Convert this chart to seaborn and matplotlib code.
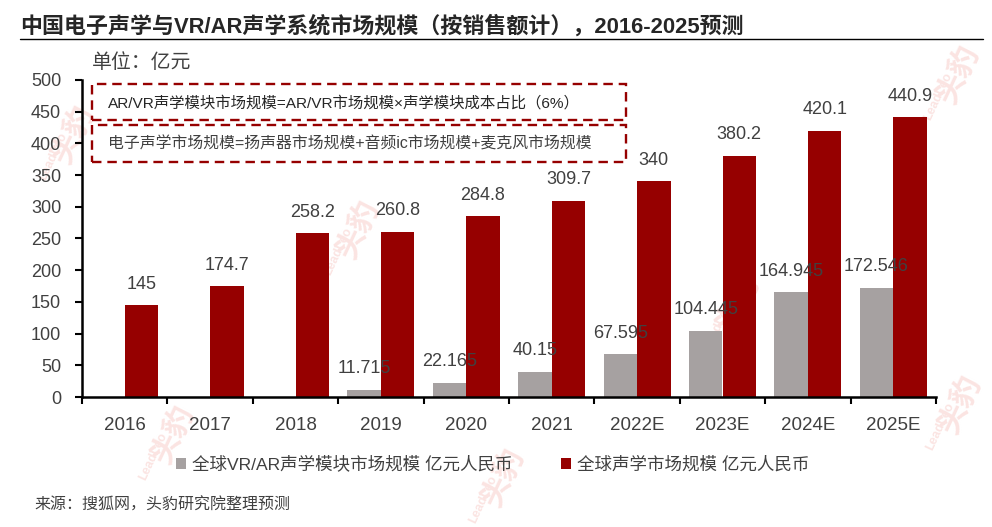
import matplotlib
matplotlib.use('Agg')
import matplotlib.pyplot as plt
import pandas as pd
import seaborn as sns
from matplotlib.patches import Rectangle

years = ['2016', '2017', '2018', '2019', '2020', '2021', '2022E', '2023E', '2024E', '2025E']
vr_values = [None, None, None, 11.715, 22.165, 40.15, 67.595, 104.445, 164.945, 172.546]
audio_values = [145, 174.7, 258.2, 260.8, 284.8, 309.7, 340, 380.2, 420.1, 440.9]
vr_name = '全球VR/AR声学模块市场规模 亿元人民币'
audio_name = '全球声学市场规模 亿元人民币'

sns.set_theme(style='white')
plt.rcParams['font.family'] = ['Liberation Sans', 'Noto Sans CJK SC', 'DejaVu Sans']

W, H = 992, 527
TEXT = '#404040'
RED = '#960000'
GREY = '#A6A1A1'
MARK = '#FBE4E2'

df = pd.DataFrame({'year': years * 2,
                   'series': [vr_name] * 10 + [audio_name] * 10,
                   'value': vr_values + audio_values})
df['value'] = df['value'].astype(float)

fig = plt.figure(figsize=(W / 100, H / 100), dpi=100)
ax = fig.add_axes([82 / W, 1 - 397 / H, (936 - 82) / W, (397 - 80) / H])
ax.set_zorder(1)

# watermark goes below the axes so the bars cover it
for x, y in [(75, 135), (360, 230), (175, 435), (505, 478), (740, 305), (960, 75), (962, 405)]:
    fig.text(x / W, 1 - y / H, '头豹', color=MARK, fontsize=22, fontweight='bold',
             rotation=65, ha='center', va='center', zorder=-1)
    fig.text((x - 22) / W, 1 - (y + 22) / H, 'LeadLeo', color=MARK, fontsize=9, fontweight='bold',
             rotation=65, ha='center', va='center', zorder=-1)

sns.barplot(data=df, x='year', y='value', hue='series', order=years,
            hue_order=[vr_name, audio_name], palette=[GREY, RED],
            width=0.785, gap=0, saturation=1, linewidth=0, ax=ax)
ax.patch.set_alpha(0)

for container in ax.containers:
    labels = []
    for v in container.datavalues:
        labels.append('' if pd.isna(v) else f'{v:g}')
    ax.bar_label(container, labels=labels, padding=9, fontsize=13, color=TEXT)

ax.set_xlim(-0.5, 9.5)
ax.set_ylim(0, 500)
ax.set_yticks(range(0, 501, 50))
ax.set_xlabel('')
ax.set_ylabel('')
ax.set_xticks([x - 0.5 for x in range(11)], minor=True)
ax.tick_params(axis='x', which='minor', bottom=True, length=5, width=1.5, color='black', direction='out')
ax.tick_params(axis='x', which='major', bottom=False, labelsize=13.5, labelcolor=TEXT, pad=8.5)
ax.tick_params(axis='y', left=True, length=5, width=1.5, color='black', direction='out',
               labelsize=13, labelcolor=TEXT, pad=10)
sns.despine(ax=ax)
for side in ['left', 'bottom']:
    ax.spines[side].set_color('black')
    ax.spines[side].set_linewidth(1.8)

ax.legend(loc='upper left', bbox_to_anchor=(172 / W, 1 - 452 / H), bbox_transform=fig.transFigure,
          ncol=2, frameon=False, fontsize=12.6, labelcolor=TEXT, handlelength=0.6, handleheight=0.6,
          handletextpad=0.35, columnspacing=2.75, borderpad=0.2, borderaxespad=0)

fig.text(20 / W, 1 - 26 / H, '中国电子声学与VR/AR声学系统市场规模（按销售额计），2016-2025预测',
         fontsize=15.8, fontweight='bold', color='#262626', va='center')
fig.add_artist(plt.Line2D([20 / W, 983 / W], [1 - 38.5 / H] * 2, color='black', lw=1))
fig.text(92 / W, 1 - 63 / H, '单位：亿元', fontsize=14.3, color=TEXT, va='center')
fig.text(34 / W, 1 - 505 / H, '来源：搜狐网，头豹研究院整理预测', fontsize=11.5, color=TEXT, va='center')

for top, bottom in [(84, 120), (125, 162)]:
    fig.add_artist(Rectangle((92 / W, 1 - bottom / H), (626 - 92) / W, (bottom - top) / H,
                             fill=False, ec=RED, lw=1.7, ls=(0, (4, 2.5)), zorder=3,
                             transform=fig.transFigure))
fig.text(108 / W, 1 - 103 / H, 'AR/VR声学模块市场规模=AR/VR市场规模×声学模块成本占比（6%）',
         fontsize=11.1, color='#262626', va='center', zorder=3)
fig.text(108 / W, 1 - 144 / H, '电子声学市场规模=扬声器市场规模+音频ic市场规模+麦克风市场规模',
         fontsize=11.4, color=TEXT, va='center', zorder=3)

fig.savefig('out.png', dpi=100)
